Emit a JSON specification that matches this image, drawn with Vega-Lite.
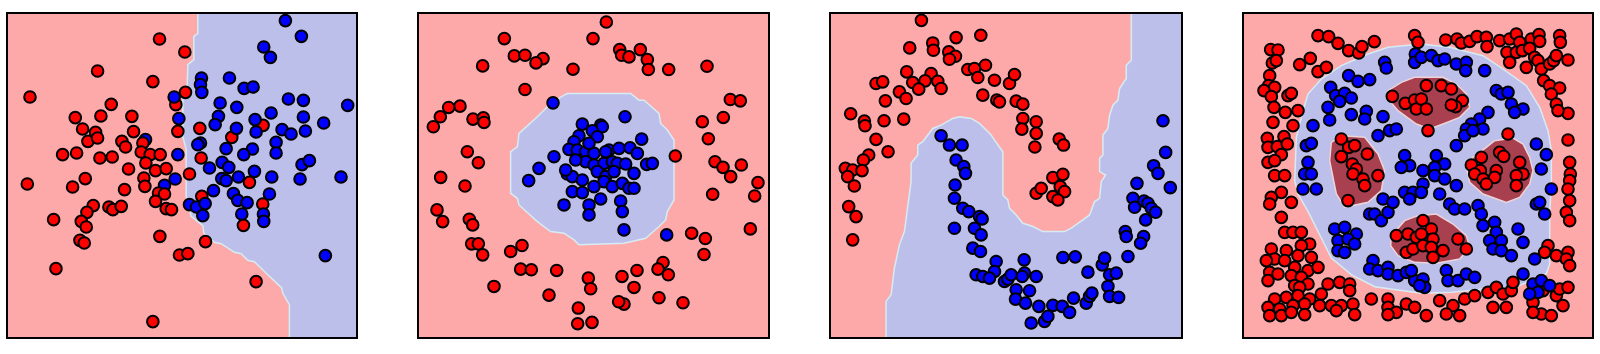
{
"$schema": "https://vega.github.io/schema/vega-lite/v6.json",
"padding": {"left": 6, "top": 10, "right": 0, "bottom": 0},
"spacing": 61,
"bounds": "flush",
"background": "white",
"config": {"view": {"stroke": null, "fill": "#fea9a9"}},
"datasets": {
"f1": [{"x": 1.7, "x2": 106.8, "y": 3.0, "y2": 100.5}],
"f2": [{"x": 2.2, "x2": 107.5, "y": 2.8, "y2": 100.5}],
"f3": [{"x": 2.2, "x2": 107.7, "y": 3.3, "y2": 101.0}],
"f4": [{"x": 3.5, "x2": 108.5, "y": 3.7, "y2": 101.2}],
"r1": [{"i":0,"x":59.0,"y":3.0},{"i":1,"x":59.0,"y":9.2},{"i":2,"x":57.8,"y":10.0},{"i":3,"x":57.8,"y":17.0},{"i":4,"x":56.0,"y":18.5},{"i":5,"x":55.8,"y":25.0},{"i":6,"x":54.5,"y":26.2},{"i":7,"x":54.5,"y":40.0},{"i":8,"x":55.5,"y":44.0},{"i":9,"x":55.5,"y":58.0},{"i":10,"x":57.0,"y":64.0},{"i":11,"x":60.5,"y":66.8},{"i":12,"x":60.8,"y":69.0},{"i":13,"x":62.5,"y":70.5},{"i":14,"x":64.0,"y":71.8},{"i":15,"x":66.0,"y":72.2},{"i":16,"x":70.0,"y":74.8},{"i":17,"x":72.0,"y":75.2},{"i":18,"x":74.0,"y":77.2},{"i":19,"x":76.0,"y":77.6},{"i":20,"x":80.0,"y":81.5},{"i":21,"x":84.2,"y":85.5},{"i":22,"x":84.5,"y":87.0},{"i":23,"x":86.5,"y":90.5},{"i":24,"x":86.5,"y":100.5},{"i":25,"x":106.8,"y":100.5},{"i":26,"x":106.8,"y":3.0}],
"r2": [{"i":0,"x":47.0,"y":27.0},{"i":1,"x":66.0,"y":27.0},{"i":2,"x":68.5,"y":29.0},{"i":3,"x":70.0,"y":29.0},{"i":4,"x":74.5,"y":33.0},{"i":5,"x":75.0,"y":36.0},{"i":6,"x":77.0,"y":38.0},{"i":7,"x":79.0,"y":41.0},{"i":8,"x":79.0,"y":59.0},{"i":9,"x":77.0,"y":62.5},{"i":10,"x":76.5,"y":65.0},{"i":11,"x":74.5,"y":67.0},{"i":12,"x":70.5,"y":70.5},{"i":13,"x":64.0,"y":72.0},{"i":14,"x":50.5,"y":72.5},{"i":15,"x":49.0,"y":71.0},{"i":16,"x":46.0,"y":69.0},{"i":17,"x":42.0,"y":68.5},{"i":18,"x":38.0,"y":65.5},{"i":19,"x":32.5,"y":60.5},{"i":20,"x":32.0,"y":58.5},{"i":21,"x":30.0,"y":57.0},{"i":22,"x":30.0,"y":44.5},{"i":23,"x":32.0,"y":43.0},{"i":24,"x":32.5,"y":39.0},{"i":25,"x":38.0,"y":34.0},{"i":26,"x":42.0,"y":30.0},{"i":27,"x":46.0,"y":27.5}],
"r3": [{"i":0,"x":92.5,"y":3.3},{"i":1,"x":92.5,"y":17.5},{"i":2,"x":91.0,"y":19.0},{"i":3,"x":91.0,"y":23.0},{"i":4,"x":89.0,"y":26.0},{"i":5,"x":88.5,"y":29.5},{"i":6,"x":87.0,"y":31.0},{"i":7,"x":86.0,"y":34.0},{"i":8,"x":85.5,"y":38.0},{"i":9,"x":84.0,"y":40.0},{"i":10,"x":84.0,"y":46.0},{"i":11,"x":83.0,"y":47.0},{"i":12,"x":83.0,"y":51.0},{"i":13,"x":84.8,"y":52.0},{"i":14,"x":83.5,"y":54.0},{"i":15,"x":83.0,"y":59.0},{"i":16,"x":81.5,"y":60.0},{"i":17,"x":80.0,"y":64.0},{"i":18,"x":78.0,"y":65.5},{"i":19,"x":74.5,"y":68.0},{"i":20,"x":72.5,"y":69.0},{"i":21,"x":66.0,"y":69.0},{"i":22,"x":63.0,"y":67.5},{"i":23,"x":60.0,"y":66.5},{"i":24,"x":58.0,"y":64.0},{"i":25,"x":56.0,"y":62.0},{"i":26,"x":55.5,"y":59.5},{"i":27,"x":54.0,"y":58.0},{"i":28,"x":54.0,"y":45.0},{"i":29,"x":51.5,"y":41.5},{"i":30,"x":50.5,"y":40.0},{"i":31,"x":47.0,"y":36.5},{"i":32,"x":44.5,"y":35.0},{"i":33,"x":41.0,"y":34.5},{"i":34,"x":39.0,"y":35.0},{"i":35,"x":35.5,"y":37.0},{"i":36,"x":33.0,"y":38.0},{"i":37,"x":30.0,"y":42.0},{"i":38,"x":28.5,"y":43.0},{"i":39,"x":28.5,"y":46.0},{"i":40,"x":26.5,"y":48.5},{"i":41,"x":26.5,"y":54.0},{"i":42,"x":24.5,"y":69.0},{"i":43,"x":23.0,"y":73.0},{"i":44,"x":21.5,"y":80.0},{"i":45,"x":20.5,"y":88.0},{"i":46,"x":19.0,"y":90.0},{"i":47,"x":19.0,"y":101.0},{"i":48,"x":107.7,"y":101.0},{"i":49,"x":107.7,"y":3.3}],
"r4": [{"i":0,"x":19.0,"y":54.0},{"i":1,"x":19.5,"y":41.0},{"i":2,"x":21.5,"y":33.0},{"i":3,"x":23.0,"y":28.0},{"i":4,"x":27.0,"y":23.5},{"i":5,"x":33.0,"y":19.5},{"i":6,"x":41.0,"y":16.0},{"i":7,"x":47.0,"y":14.0},{"i":8,"x":57.0,"y":13.0},{"i":9,"x":65.5,"y":14.0},{"i":10,"x":75.5,"y":16.5},{"i":11,"x":81.5,"y":20.5},{"i":12,"x":88.5,"y":25.5},{"i":13,"x":92.5,"y":32.0},{"i":14,"x":95.0,"y":39.0},{"i":15,"x":96.0,"y":45.0},{"i":16,"x":96.0,"y":54.0},{"i":17,"x":95.5,"y":65.0},{"i":18,"x":95.5,"y":79.0},{"i":19,"x":94.5,"y":82.0},{"i":20,"x":90.0,"y":84.0},{"i":21,"x":85.0,"y":86.0},{"i":22,"x":76.0,"y":86.5},{"i":23,"x":66.0,"y":87.5},{"i":24,"x":57.0,"y":87.8},{"i":25,"x":43.0,"y":85.8},{"i":26,"x":36.0,"y":82.2},{"i":27,"x":30.0,"y":77.2},{"i":28,"x":27.0,"y":71.2},{"i":29,"x":23.0,"y":63.2},{"i":30,"x":20.0,"y":58.0}],
"r4a": [{"i":0,"x":47.0,"y":27.0},{"i":1,"x":51.0,"y":24.5},{"i":2,"x":55.0,"y":23.0},{"i":3,"x":63.5,"y":23.0},{"i":4,"x":67.5,"y":25.0},{"i":5,"x":70.5,"y":28.0},{"i":6,"x":71.5,"y":32.0},{"i":7,"x":68.5,"y":35.0},{"i":8,"x":63.5,"y":37.0},{"i":9,"x":59.5,"y":38.5},{"i":10,"x":55.5,"y":37.0},{"i":11,"x":50.0,"y":33.0},{"i":12,"x":47.0,"y":29.5}],
"r4b": [{"i":0,"x":30.0,"y":42.5},{"i":1,"x":33.0,"y":40.5},{"i":2,"x":40.0,"y":41.0},{"i":3,"x":44.0,"y":46.0},{"i":4,"x":46.0,"y":51.0},{"i":5,"x":45.0,"y":57.0},{"i":6,"x":41.0,"y":60.5},{"i":7,"x":34.0,"y":62.0},{"i":8,"x":31.5,"y":58.0},{"i":9,"x":30.5,"y":53.0},{"i":10,"x":29.5,"y":48.0}],
"r4c": [{"i":0,"x":70.5,"y":50.0},{"i":1,"x":72.5,"y":47.0},{"i":2,"x":76.5,"y":44.0},{"i":3,"x":79.0,"y":42.0},{"i":4,"x":84.5,"y":41.2},{"i":5,"x":87.5,"y":43.0},{"i":6,"x":89.5,"y":47.0},{"i":7,"x":90.5,"y":51.0},{"i":8,"x":89.5,"y":55.0},{"i":9,"x":86.5,"y":59.0},{"i":10,"x":82.5,"y":60.5},{"i":11,"x":75.5,"y":58.0},{"i":12,"x":71.5,"y":54.5}],
"r4d": [{"i":0,"x":48.0,"y":70.5},{"i":1,"x":52.0,"y":66.0},{"i":2,"x":56.0,"y":64.5},{"i":3,"x":61.5,"y":64.0},{"i":4,"x":66.5,"y":67.0},{"i":5,"x":70.5,"y":70.5},{"i":6,"x":71.5,"y":74.0},{"i":7,"x":68.5,"y":77.5},{"i":8,"x":61.5,"y":78.8},{"i":9,"x":55.0,"y":78.5},{"i":10,"x":50.0,"y":76.5},{"i":11,"x":47.8,"y":73.5}],
"p1": [
{"x":47.5,"y":10.8,"c":"r"},{"x":55.1,"y":14.7,"c":"r"},{"x":28.9,"y":20.4,"c":"r"},{"x":45.5,"y":23.6,"c":"r"},{"x":8.6,"y":28.2,"c":"r"},{"x":55.3,"y":26.8,"c":"r"},{"x":33.0,"y":30.4,"c":"r"},{"x":52.4,"y":30.5,"c":"r"},{"x":22.2,"y":34.4,"c":"r"},{"x":29.9,"y":33.9,"c":"r"},{"x":39.2,"y":34.0,"c":"r"},{"x":24.4,"y":37.8,"c":"r"},{"x":28.3,"y":38.8,"c":"r"},{"x":39.7,"y":38.6,"c":"r"},{"x":26.0,"y":41.5,"c":"r"},{"x":28.9,"y":40.5,"c":"r"},{"x":36.2,"y":41.5,"c":"r"},{"x":37.3,"y":43.2,"c":"r"},{"x":18.4,"y":45.5,"c":"r"},{"x":22.6,"y":45.0,"c":"r"},{"x":29.6,"y":46.5,"c":"r"},{"x":33.3,"y":46.2,"c":"r"},{"x":53.0,"y":38.5,"c":"r"},{"x":59.6,"y":37.6,"c":"r"},{"x":69.2,"y":40.3,"c":"r"},{"x":60.0,"y":46.5,"c":"r"},{"x":7.8,"y":54.3,"c":"r"},{"x":21.4,"y":55.2,"c":"r"},{"x":25.2,"y":52.7,"c":"r"},{"x":37.0,"y":56.0,"c":"r"},{"x":56.5,"y":51.3,"c":"r"},{"x":74.5,"y":53.8,"c":"r"},{"x":60.2,"y":58.0,"c":"r"},{"x":78.6,"y":36.7,"c":"r"},{"x":78.5,"y":60.3,"c":"r"},{"x":27.6,"y":60.8,"c":"r"},{"x":32.3,"y":61.2,"c":"r"},{"x":33.5,"y":62.0,"c":"r"},{"x":36.0,"y":61.0,"c":"r"},{"x":25.7,"y":62.8,"c":"r"},{"x":24.0,"y":65.5,"c":"r"},{"x":25.5,"y":67.2,"c":"r"},{"x":15.7,"y":65.0,"c":"r"},{"x":23.6,"y":71.2,"c":"r"},{"x":24.9,"y":72.0,"c":"r"},{"x":47.6,"y":70.0,"c":"r"},{"x":61.3,"y":71.6,"c":"r"},{"x":53.5,"y":75.6,"c":"r"},{"x":56.0,"y":75.2,"c":"r"},{"x":72.7,"y":66.7,"c":"r"},{"x":16.4,"y":79.7,"c":"r"},{"x":76.5,"y":83.6,"c":"r"},{"x":45.5,"y":95.6,"c":"r"},
{"x":85.3,"y":5.3,"c":"b"},{"x":90.1,"y":10.0,"c":"b"},{"x":78.8,"y":13.2,"c":"b"},{"x":80.8,"y":16.3,"c":"b"},{"x":60.1,"y":22.5,"c":"b"},{"x":68.5,"y":22.5,"c":"b"},{"x":59.8,"y":24.5,"c":"b"},{"x":60.2,"y":26.8,"c":"b"},{"x":72.9,"y":25.6,"c":"b"},{"x":75.6,"y":25.2,"c":"b"},{"x":51.9,"y":28.2,"c":"b"},{"x":65.7,"y":30.0,"c":"b"},{"x":70.7,"y":31.3,"c":"b"},{"x":86.2,"y":28.8,"c":"b"},{"x":90.7,"y":29.2,"c":"b"},{"x":104.0,"y":30.7,"c":"b"},{"x":53.3,"y":34.7,"c":"b"},{"x":65.2,"y":34.0,"c":"b"},{"x":64.2,"y":36.5,"c":"b"},{"x":81.0,"y":33.0,"c":"b"},{"x":76.2,"y":35.0,"c":"b"},{"x":90.7,"y":34.2,"c":"b"},{"x":96.8,"y":36.0,"c":"b"},{"x":70.6,"y":37.6,"c":"b"},{"x":76.5,"y":38.7,"c":"b"},{"x":84.3,"y":38.0,"c":"b"},{"x":87.0,"y":39.3,"c":"b"},{"x":91.3,"y":38.4,"c":"b"},{"x":59.8,"y":42.0,"c":"b"},{"x":59.0,"y":42.5,"c":"b"},{"x":67.5,"y":43.7,"c":"b"},{"x":75.4,"y":43.8,"c":"b"},{"x":72.8,"y":45.5,"c":"b"},{"x":82.5,"y":41.8,"c":"b"},{"x":82.5,"y":45.0,"c":"b"},{"x":53.0,"y":45.5,"c":"b"},{"x":62.5,"y":49.5,"c":"b"},{"x":66.3,"y":47.8,"c":"b"},{"x":68.3,"y":49.3,"c":"b"},{"x":76.0,"y":50.5,"c":"b"},{"x":90.3,"y":48.5,"c":"b"},{"x":92.5,"y":47.3,"c":"b"},{"x":89.7,"y":52.8,"c":"b"},{"x":102.0,"y":52.2,"c":"b"},{"x":81.2,"y":52.2,"c":"b"},{"x":71.2,"y":52.2,"c":"b"},{"x":66.2,"y":52.7,"c":"b"},{"x":67.5,"y":53.3,"c":"b"},{"x":52.2,"y":52.8,"c":"b"},{"x":49.0,"y":54.7,"c":"b"},{"x":63.7,"y":56.3,"c":"b"},{"x":69.7,"y":57.2,"c":"b"},{"x":71.0,"y":59.2,"c":"b"},{"x":73.8,"y":59.9,"c":"b"},{"x":80.5,"y":57.3,"c":"b"},{"x":56.5,"y":60.5,"c":"b"},{"x":58.6,"y":61.2,"c":"b"},{"x":61.2,"y":60.2,"c":"b"},{"x":60.5,"y":63.8,"c":"b"},{"x":72.2,"y":63.3,"c":"b"},{"x":78.7,"y":63.3,"c":"b"},{"x":78.8,"y":65.5,"c":"b"},{"x":97.3,"y":75.8,"c":"b"},{"x":43.3,"y":41.0,"c":"b"},
{"x":42.5,"y":42.0,"c":"r"},{"x":42.0,"y":44.7,"c":"r"},{"x":44.7,"y":45.5,"c":"r"},{"x":47.7,"y":45.5,"c":"r"},{"x":43.4,"y":48.0,"c":"r"},{"x":38.2,"y":49.8,"c":"r"},{"x":46.3,"y":50.3,"c":"r"},{"x":49.5,"y":49.7,"c":"r"},{"x":42.8,"y":52.5,"c":"r"},{"x":43.1,"y":55.0,"c":"r"},{"x":47.2,"y":57.0,"c":"r"},{"x":49.0,"y":57.3,"c":"r"},{"x":46.3,"y":59.5,"c":"r"},{"x":49.5,"y":61.7,"c":"r"},{"x":51.1,"y":62.0,"c":"r"}
],
"p2": [
{"x":58.7,"y":5.5,"c":"r"},{"x":28.1,"y":10.5,"c":"r"},{"x":54.7,"y":10.5,"c":"r"},{"x":31.1,"y":15.7,"c":"r"},{"x":34.3,"y":15.5,"c":"r"},{"x":39.7,"y":16.5,"c":"r"},{"x":37.6,"y":17.8,"c":"r"},{"x":21.6,"y":18.7,"c":"r"},{"x":48.7,"y":19.7,"c":"r"},{"x":62.7,"y":13.8,"c":"r"},{"x":63.3,"y":15.5,"c":"r"},{"x":65.5,"y":16.0,"c":"r"},{"x":68.9,"y":13.8,"c":"r"},{"x":71.0,"y":16.8,"c":"r"},{"x":71.3,"y":19.8,"c":"r"},{"x":77.4,"y":19.8,"c":"r"},{"x":88.9,"y":18.8,"c":"r"},{"x":34.3,"y":25.8,"c":"r"},{"x":14.8,"y":30.8,"c":"r"},{"x":11.4,"y":31.2,"c":"r"},{"x":8.9,"y":34.0,"c":"r"},{"x":6.8,"y":37.0,"c":"r"},{"x":18.7,"y":34.7,"c":"r"},{"x":21.8,"y":34.3,"c":"r"},{"x":22.0,"y":35.7,"c":"r"},{"x":95.9,"y":28.8,"c":"r"},{"x":98.9,"y":29.2,"c":"r"},{"x":93.8,"y":34.2,"c":"r"},{"x":87.5,"y":35.5,"c":"r"},{"x":89.3,"y":40.6,"c":"r"},{"x":17.0,"y":44.5,"c":"r"},{"x":20.3,"y":47.8,"c":"r"},{"x":9.0,"y":52.2,"c":"r"},{"x":16.3,"y":54.8,"c":"r"},{"x":79.4,"y":45.8,"c":"r"},{"x":91.3,"y":47.5,"c":"r"},{"x":93.7,"y":49.2,"c":"r"},{"x":96.0,"y":52.0,"c":"r"},{"x":99.2,"y":48.5,"c":"r"},{"x":104.2,"y":53.8,"c":"r"},{"x":103.2,"y":57.8,"c":"r"},{"x":90.6,"y":57.3,"c":"r"},{"x":7.9,"y":62.0,"c":"r"},{"x":9.6,"y":65.5,"c":"r"},{"x":17.6,"y":64.8,"c":"r"},{"x":18.6,"y":66.5,"c":"r"},{"x":18.3,"y":72.2,"c":"r"},{"x":20.3,"y":72.2,"c":"r"},{"x":21.6,"y":75.5,"c":"r"},{"x":30.0,"y":74.5,"c":"r"},{"x":33.4,"y":72.7,"c":"r"},{"x":101.9,"y":67.7,"c":"r"},{"x":84.3,"y":69.0,"c":"r"},{"x":88.4,"y":70.6,"c":"r"},{"x":88.0,"y":75.4,"c":"r"},{"x":33.0,"y":79.8,"c":"r"},{"x":36.2,"y":80.0,"c":"r"},{"x":43.8,"y":80.2,"c":"r"},{"x":25.0,"y":85.0,"c":"r"},{"x":53.3,"y":82.5,"c":"r"},{"x":54.0,"y":85.7,"c":"r"},{"x":63.4,"y":82.0,"c":"r"},{"x":67.9,"y":80.2,"c":"r"},{"x":67.0,"y":85.3,"c":"r"},{"x":75.7,"y":77.8,"c":"r"},{"x":74.2,"y":79.8,"c":"r"},{"x":77.3,"y":81.5,"c":"r"},{"x":41.5,"y":87.6,"c":"r"},{"x":64.0,"y":90.3,"c":"r"},{"x":62.4,"y":89.6,"c":"r"},{"x":74.5,"y":88.4,"c":"r"},{"x":81.7,"y":89.9,"c":"r"},{"x":50.3,"y":91.5,"c":"r"},{"x":50.1,"y":96.2,"c":"r"},{"x":54.4,"y":95.8,"c":"r"},
{"x":42.7,"y":29.8,"c":"b"},{"x":76.8,"y":69.5,"c":"b"},{"x":64.3,"y":34.0,"c":"b"},{"x":51.5,"y":36.2,"c":"b"},{"x":57.0,"y":36.5,"c":"b"},{"x":57.5,"y":37.0,"c":"b"},{"x":50.5,"y":39.7,"c":"b"},{"x":54.5,"y":38.2,"c":"b"},{"x":56.0,"y":40.0,"c":"b"},{"x":49.0,"y":41.5,"c":"b"},{"x":47.5,"y":43.8,"c":"b"},{"x":50.0,"y":44.0,"c":"b"},{"x":52.5,"y":44.5,"c":"b"},{"x":55.0,"y":45.0,"c":"b"},{"x":59.5,"y":44.0,"c":"b"},{"x":62.5,"y":43.5,"c":"b"},{"x":65.8,"y":43.3,"c":"b"},{"x":68.0,"y":45.0,"c":"b"},{"x":69.3,"y":40.7,"c":"b"},{"x":43.0,"y":46.0,"c":"b"},{"x":38.5,"y":49.5,"c":"b"},{"x":35.4,"y":53.2,"c":"b"},{"x":52.5,"y":47.5,"c":"b"},{"x":55.0,"y":48.5,"c":"b"},{"x":58.0,"y":48.0,"c":"b"},{"x":60.5,"y":47.5,"c":"b"},{"x":62.0,"y":48.0,"c":"b"},{"x":64.5,"y":48.2,"c":"b"},{"x":70.8,"y":48.3,"c":"b"},{"x":72.5,"y":48.0,"c":"b"},{"x":47.0,"y":51.2,"c":"b"},{"x":48.5,"y":52.0,"c":"b"},{"x":51.5,"y":53.0,"c":"b"},{"x":56.0,"y":50.5,"c":"b"},{"x":58.5,"y":52.0,"c":"b"},{"x":58.0,"y":53.5,"c":"b"},{"x":60.5,"y":55.0,"c":"b"},{"x":63.5,"y":54.0,"c":"b"},{"x":67.0,"y":51.0,"c":"b"},{"x":65.5,"y":55.5,"c":"b"},{"x":67.0,"y":55.5,"c":"b"},{"x":48.5,"y":56.5,"c":"b"},{"x":51.5,"y":56.8,"c":"b"},{"x":57.0,"y":58.7,"c":"b"},{"x":63.0,"y":59.3,"c":"b"},{"x":46.0,"y":60.5,"c":"b"},{"x":53.5,"y":60.5,"c":"b"},{"x":53.5,"y":63.5,"c":"b"},{"x":63.5,"y":62.5,"c":"b"},{"x":64.0,"y":68.0,"c":"b"},{"x":49.5,"y":47.0,"c":"b"},{"x":53.5,"y":42.0,"c":"b"},{"x":61.0,"y":50.5,"c":"b"},{"x":58.5,"y":44.5,"c":"b"},{"x":46.5,"y":50.0,"c":"b"},{"x":55.0,"y":55.0,"c":"b"}
],
"p3": [
{"x":29.6,"y":5.5,"c":"r"},{"x":40.0,"y":10.7,"c":"r"},{"x":47.4,"y":10.0,"c":"r"},{"x":33.0,"y":12.3,"c":"r"},{"x":33.2,"y":14.5,"c":"r"},{"x":37.8,"y":15.0,"c":"r"},{"x":39.8,"y":16.3,"c":"r"},{"x":38.0,"y":17.2,"c":"r"},{"x":26.1,"y":13.8,"c":"r"},{"x":25.2,"y":21.0,"c":"r"},{"x":32.5,"y":21.5,"c":"r"},{"x":30.7,"y":23.7,"c":"r"},{"x":34.5,"y":23.8,"c":"r"},{"x":35.5,"y":26.0,"c":"r"},{"x":16.0,"y":24.5,"c":"r"},{"x":18.0,"y":24.0,"c":"r"},{"x":27.0,"y":24.2,"c":"r"},{"x":28.8,"y":26.2,"c":"r"},{"x":23.0,"y":27.0,"c":"r"},{"x":25.0,"y":29.0,"c":"r"},{"x":18.8,"y":29.7,"c":"r"},{"x":43.5,"y":20.3,"c":"r"},{"x":45.5,"y":20.0,"c":"r"},{"x":48.8,"y":19.0,"c":"r"},{"x":46.5,"y":22.7,"c":"r"},{"x":51.5,"y":23.5,"c":"r"},{"x":56.0,"y":24.5,"c":"r"},{"x":57.5,"y":21.8,"c":"r"},{"x":48.0,"y":28.0,"c":"r"},{"x":52.2,"y":29.5,"c":"r"},{"x":53.0,"y":30.0,"c":"r"},{"x":58.0,"y":29.8,"c":"r"},{"x":60.0,"y":30.7,"c":"r"},{"x":8.4,"y":33.6,"c":"r"},{"x":12.5,"y":35.8,"c":"r"},{"x":12.7,"y":37.2,"c":"r"},{"x":18.4,"y":35.7,"c":"r"},{"x":24.3,"y":35.2,"c":"r"},{"x":60.0,"y":35.0,"c":"r"},{"x":64.0,"y":36.0,"c":"r"},{"x":59.7,"y":38.2,"c":"r"},{"x":64.0,"y":39.5,"c":"r"},{"x":63.6,"y":43.6,"c":"r"},{"x":70.9,"y":41.2,"c":"r"},{"x":72.2,"y":43.0,"c":"r"},{"x":16.0,"y":41.3,"c":"r"},{"x":19.6,"y":45.0,"c":"r"},{"x":13.8,"y":46.0,"c":"r"},{"x":12.2,"y":47.5,"c":"r"},{"x":6.8,"y":50.0,"c":"r"},{"x":9.0,"y":50.5,"c":"r"},{"x":11.8,"y":50.7,"c":"r"},{"x":7.5,"y":52.5,"c":"r"},{"x":9.5,"y":55.3,"c":"r"},{"x":7.8,"y":61.5,"c":"r"},{"x":10.0,"y":64.5,"c":"r"},{"x":9.0,"y":71.5,"c":"r"},{"x":64.0,"y":57.5,"c":"r"},{"x":65.5,"y":56.0,"c":"r"},{"x":69.0,"y":52.8,"c":"r"},{"x":72.0,"y":51.8,"c":"r"},{"x":71.2,"y":55.5,"c":"r"},{"x":72.5,"y":57.0,"c":"r"},{"x":69.0,"y":58.5,"c":"r"},{"x":70.5,"y":59.5,"c":"r"},
{"x":102.0,"y":35.7,"c":"b"},{"x":102.8,"y":45.2,"c":"b"},{"x":99.2,"y":49.2,"c":"b"},{"x":100.5,"y":51.5,"c":"b"},{"x":104.2,"y":55.8,"c":"b"},{"x":94.2,"y":54.5,"c":"b"},{"x":93.0,"y":59.0,"c":"b"},{"x":93.5,"y":61.7,"c":"b"},{"x":96.3,"y":59.8,"c":"b"},{"x":97.5,"y":60.5,"c":"b"},{"x":98.5,"y":62.0,"c":"b"},{"x":99.8,"y":63.2,"c":"b"},{"x":96.8,"y":65.5,"c":"b"},{"x":90.7,"y":69.0,"c":"b"},{"x":91.0,"y":70.5,"c":"b"},{"x":96.2,"y":70.5,"c":"b"},{"x":95.3,"y":72.5,"c":"b"},{"x":91.5,"y":76.5,"c":"b"},{"x":35.5,"y":40.2,"c":"b"},{"x":38.0,"y":43.0,"c":"b"},{"x":41.8,"y":43.0,"c":"b"},{"x":40.0,"y":47.5,"c":"b"},{"x":42.3,"y":49.5,"c":"b"},{"x":42.8,"y":51.5,"c":"b"},{"x":39.7,"y":55.0,"c":"b"},{"x":39.5,"y":59.0,"c":"b"},{"x":42.0,"y":62.0,"c":"b"},{"x":43.8,"y":63.0,"c":"b"},{"x":47.0,"y":64.5,"c":"b"},{"x":47.8,"y":65.2,"c":"b"},{"x":45.5,"y":68.0,"c":"b"},{"x":47.5,"y":70.0,"c":"b"},{"x":39.5,"y":68.0,"c":"b"},{"x":45.0,"y":74.0,"c":"b"},{"x":47.3,"y":75.0,"c":"b"},{"x":52.0,"y":78.0,"c":"b"},{"x":60.4,"y":77.5,"c":"b"},{"x":51.5,"y":81.0,"c":"b"},{"x":46.0,"y":82.0,"c":"b"},{"x":48.0,"y":82.5,"c":"b"},{"x":50.0,"y":83.0,"c":"b"},{"x":54.5,"y":84.0,"c":"b"},{"x":55.5,"y":83.3,"c":"b"},{"x":56.5,"y":82.0,"c":"b"},{"x":60.5,"y":81.5,"c":"b"},{"x":59.8,"y":82.5,"c":"b"},{"x":64.0,"y":82.5,"c":"b"},{"x":58.0,"y":86.5,"c":"b"},{"x":62.0,"y":86.8,"c":"b"},{"x":57.8,"y":89.3,"c":"b"},{"x":60.8,"y":90.5,"c":"b"},{"x":64.8,"y":91.5,"c":"b"},{"x":69.0,"y":91.2,"c":"b"},{"x":71.8,"y":91.5,"c":"b"},{"x":74.0,"y":93.3,"c":"b"},{"x":75.2,"y":89.0,"c":"b"},{"x":79.0,"y":90.5,"c":"b"},{"x":80.0,"y":88.5,"c":"b"},{"x":80.7,"y":87.5,"c":"b"},{"x":62.5,"y":96.5,"c":"b"},{"x":66.5,"y":96.0,"c":"b"},{"x":67.5,"y":94.5,"c":"b"},{"x":72.0,"y":76.8,"c":"b"},{"x":75.7,"y":76.6,"c":"b"},{"x":79.5,"y":81.2,"c":"b"},{"x":83.8,"y":79.0,"c":"b"},{"x":84.5,"y":77.0,"c":"b"},{"x":86.0,"y":82.0,"c":"b"},{"x":88.0,"y":81.5,"c":"b"},{"x":85.5,"y":85.5,"c":"b"},{"x":86.0,"y":88.5,"c":"b"},{"x":88.7,"y":88.8,"c":"b"}
],
"p4": [
{"x":26.0,"y":10.5,"c":"r"},{"x":29.2,"y":10.8,"c":"r"},{"x":32.0,"y":12.8,"c":"r"},{"x":35.2,"y":15.0,"c":"r"},{"x":38.2,"y":15.7,"c":"r"},{"x":39.2,"y":13.8,"c":"r"},{"x":42.9,"y":12.3,"c":"r"},{"x":11.8,"y":14.7,"c":"r"},{"x":14.0,"y":14.8,"c":"r"},{"x":12.3,"y":18.7,"c":"r"},{"x":13.5,"y":18.0,"c":"r"},{"x":20.5,"y":19.2,"c":"r"},{"x":23.7,"y":17.3,"c":"r"},{"x":26.0,"y":21.3,"c":"r"},{"x":28.5,"y":20.0,"c":"r"},{"x":11.5,"y":22.5,"c":"r"},{"x":11.2,"y":25.5,"c":"r"},{"x":13.0,"y":26.0,"c":"r"},{"x":9.8,"y":27.0,"c":"r"},{"x":12.0,"y":28.8,"c":"r"},{"x":17.0,"y":28.5,"c":"r"},{"x":18.0,"y":27.8,"c":"r"},{"x":12.8,"y":32.0,"c":"r"},{"x":16.2,"y":33.5,"c":"r"},{"x":20.0,"y":33.0,"c":"r"},{"x":12.5,"y":36.5,"c":"r"},{"x":18.5,"y":37.5,"c":"r"},{"x":10.8,"y":41.3,"c":"r"},{"x":15.8,"y":40.8,"c":"r"},{"x":11.0,"y":44.0,"c":"r"},{"x":13.8,"y":43.8,"c":"r"},{"x":16.8,"y":43.0,"c":"r"},{"x":15.0,"y":46.2,"c":"r"},{"x":11.0,"y":48.5,"c":"r"},{"x":13.0,"y":48.0,"c":"r"},{"x":13.0,"y":52.5,"c":"r"},{"x":16.0,"y":52.5,"c":"r"},{"x":48.3,"y":28.7,"c":"r"},{"x":52.2,"y":30.8,"c":"r"},{"x":55.0,"y":29.8,"c":"r"},{"x":55.5,"y":32.5,"c":"r"},{"x":55.0,"y":10.5,"c":"r"},{"x":56.0,"y":12.5,"c":"r"},{"x":33.0,"y":41.5,"c":"r"},{"x":35.2,"y":44.0,"c":"r"},{"x":37.0,"y":43.5,"c":"r"},{"x":40.8,"y":46.0,"c":"r"},{"x":33.0,"y":46.8,"c":"r"},{"x":36.3,"y":49.0,"c":"r"},{"x":37.5,"y":50.5,"c":"r"},{"x":44.0,"y":52.5,"c":"r"},{"x":36.5,"y":52.0,"c":"r"},{"x":39.5,"y":53.5,"c":"r"},
{"x":64.3,"y":11.8,"c":"r"},{"x":67.7,"y":11.5,"c":"r"},{"x":69.0,"y":12.7,"c":"r"},{"x":71.5,"y":12.2,"c":"r"},{"x":73.7,"y":10.8,"c":"r"},{"x":76.5,"y":11.0,"c":"r"},{"x":76.7,"y":13.8,"c":"r"},{"x":80.5,"y":12.0,"c":"r"},{"x":83.5,"y":11.5,"c":"r"},{"x":85.5,"y":10.0,"c":"r"},{"x":86.5,"y":12.5,"c":"r"},{"x":90.0,"y":11.5,"c":"r"},{"x":92.3,"y":10.2,"c":"r"},{"x":92.5,"y":12.2,"c":"r"},{"x":98.5,"y":10.5,"c":"r"},{"x":98.7,"y":12.5,"c":"r"},{"x":82.7,"y":15.5,"c":"r"},{"x":85.5,"y":15.5,"c":"r"},{"x":87.3,"y":15.0,"c":"r"},{"x":89.5,"y":14.3,"c":"r"},{"x":91.0,"y":17.0,"c":"r"},{"x":83.5,"y":18.5,"c":"r"},{"x":88.5,"y":20.0,"c":"r"},{"x":92.0,"y":18.0,"c":"r"},{"x":93.0,"y":20.5,"c":"r"},{"x":95.5,"y":19.0,"c":"r"},{"x":96.7,"y":18.0,"c":"r"},{"x":97.5,"y":16.5,"c":"r"},{"x":101.0,"y":17.8,"c":"r"},{"x":93.7,"y":24.0,"c":"r"},{"x":95.5,"y":25.5,"c":"r"},{"x":98.5,"y":26.2,"c":"r"},{"x":96.0,"y":28.0,"c":"r"},{"x":97.5,"y":31.0,"c":"r"},{"x":101.0,"y":33.8,"c":"r"},{"x":98.0,"y":33.0,"c":"r"},{"x":58.5,"y":25.5,"c":"r"},{"x":63.0,"y":25.5,"c":"r"},{"x":66.0,"y":26.5,"c":"r"},{"x":69.3,"y":30.0,"c":"r"},{"x":67.3,"y":31.8,"c":"r"},{"x":66.0,"y":31.3,"c":"r"},{"x":57.0,"y":29.5,"c":"r"},{"x":58.5,"y":32.5,"c":"r"},{"x":59.0,"y":39.0,"c":"r"},{"x":101.0,"y":41.8,"c":"r"},{"x":83.0,"y":40.0,"c":"r"},{"x":80.5,"y":45.5,"c":"r"},{"x":81.7,"y":46.7,"c":"r"},{"x":75.0,"y":47.0,"c":"r"},{"x":72.0,"y":49.3,"c":"r"},{"x":74.7,"y":51.0,"c":"r"},{"x":79.5,"y":51.0,"c":"r"},{"x":86.5,"y":48.5,"c":"r"},{"x":87.5,"y":52.0,"c":"r"},{"x":85.5,"y":52.5,"c":"r"},{"x":101.5,"y":48.5,"c":"r"},{"x":101.7,"y":52.0,"c":"r"},{"x":79.0,"y":53.0,"c":"r"},
{"x":15.0,"y":57.5,"c":"r"},{"x":12.0,"y":59.0,"c":"r"},{"x":11.5,"y":61.0,"c":"r"},{"x":18.0,"y":60.5,"c":"r"},{"x":15.0,"y":65.0,"c":"r"},{"x":16.0,"y":69.5,"c":"r"},{"x":18.5,"y":69.5,"c":"r"},{"x":21.0,"y":69.5,"c":"r"},{"x":23.5,"y":73.0,"c":"r"},{"x":21.0,"y":73.5,"c":"r"},{"x":12.0,"y":74.5,"c":"r"},{"x":16.5,"y":75.0,"c":"r"},{"x":13.0,"y":77.5,"c":"r"},{"x":20.0,"y":76.5,"c":"r"},{"x":24.0,"y":77.0,"c":"r"},{"x":10.5,"y":78.0,"c":"r"},{"x":16.0,"y":78.0,"c":"r"},{"x":19.0,"y":80.0,"c":"r"},{"x":23.0,"y":81.0,"c":"r"},{"x":26.0,"y":80.0,"c":"r"},{"x":11.5,"y":81.5,"c":"r"},{"x":14.0,"y":82.0,"c":"r"},{"x":18.0,"y":82.5,"c":"r"},{"x":21.0,"y":83.0,"c":"r"},{"x":11.0,"y":84.0,"c":"r"},{"x":19.0,"y":85.5,"c":"r"},{"x":23.0,"y":85.0,"c":"r"},{"x":20.5,"y":86.0,"c":"r"},{"x":29.0,"y":85.0,"c":"r"},{"x":32.5,"y":84.5,"c":"r"},{"x":35.5,"y":85.0,"c":"r"},{"x":35.5,"y":87.0,"c":"r"},{"x":27.0,"y":88.0,"c":"r"},{"x":13.0,"y":89.5,"c":"r"},{"x":16.5,"y":89.0,"c":"r"},{"x":20.0,"y":88.5,"c":"r"},{"x":23.5,"y":89.5,"c":"r"},{"x":11.0,"y":92.0,"c":"r"},{"x":14.5,"y":92.5,"c":"r"},{"x":18.5,"y":91.5,"c":"r"},{"x":22.0,"y":91.0,"c":"r"},{"x":26.5,"y":91.5,"c":"r"},{"x":30.0,"y":91.5,"c":"r"},{"x":33.0,"y":91.5,"c":"r"},{"x":36.5,"y":91.0,"c":"r"},{"x":11.5,"y":94.5,"c":"r"},{"x":15.0,"y":94.5,"c":"r"},{"x":18.0,"y":93.5,"c":"r"},{"x":22.0,"y":94.2,"c":"r"},{"x":31.5,"y":93.0,"c":"r"},{"x":37.0,"y":94.2,"c":"r"},{"x":42.0,"y":89.5,"c":"r"},{"x":47.0,"y":89.5,"c":"r"},{"x":47.0,"y":92.0,"c":"r"},{"x":49.5,"y":93.5,"c":"r"},{"x":47.0,"y":94.2,"c":"r"},{"x":52.5,"y":91.0,"c":"r"},{"x":55.0,"y":92.0,"c":"r"},{"x":35.0,"y":60.0,"c":"r"},{"x":40.0,"y":55.5,"c":"r"},{"x":49.5,"y":70.5,"c":"r"},{"x":53.0,"y":70.0,"c":"r"},{"x":52.5,"y":75.5,"c":"r"},{"x":55.5,"y":71.0,"c":"r"},{"x":54.5,"y":74.5,"c":"r"},
{"x":73.0,"y":52.0,"c":"r"},{"x":75.5,"y":53.5,"c":"r"},{"x":76.5,"y":55.0,"c":"r"},{"x":85.5,"y":55.5,"c":"r"},{"x":57.5,"y":66.0,"c":"r"},{"x":60.0,"y":68.5,"c":"r"},{"x":57.0,"y":70.0,"c":"r"},{"x":60.5,"y":71.5,"c":"r"},{"x":57.5,"y":73.5,"c":"r"},{"x":60.0,"y":74.0,"c":"r"},{"x":63.5,"y":75.0,"c":"r"},{"x":60.5,"y":77.0,"c":"r"},{"x":68.0,"y":71.5,"c":"r"},{"x":70.5,"y":74.5,"c":"r"},{"x":101.5,"y":54.0,"c":"r"},{"x":101.0,"y":56.5,"c":"r"},{"x":101.5,"y":60.0,"c":"r"},{"x":100.5,"y":63.5,"c":"r"},{"x":101.5,"y":66.0,"c":"r"},{"x":95.0,"y":73.5,"c":"r"},{"x":94.0,"y":75.5,"c":"r"},{"x":97.5,"y":76.5,"c":"r"},{"x":101.0,"y":75.5,"c":"r"},{"x":100.5,"y":77.5,"c":"r"},{"x":101.5,"y":79.5,"c":"r"},{"x":62.5,"y":90.0,"c":"r"},{"x":66.5,"y":91.5,"c":"r"},{"x":70.0,"y":89.5,"c":"r"},{"x":73.0,"y":88.5,"c":"r"},{"x":64.5,"y":94.0,"c":"r"},{"x":68.5,"y":94.5,"c":"r"},{"x":58.5,"y":94.5,"c":"r"},{"x":77.0,"y":87.5,"c":"r"},{"x":79.5,"y":86.0,"c":"r"},{"x":81.5,"y":88.0,"c":"r"},{"x":84.0,"y":87.0,"c":"r"},{"x":84.5,"y":84.5,"c":"r"},{"x":78.5,"y":92.0,"c":"r"},{"x":82.5,"y":92.0,"c":"r"},{"x":90.5,"y":90.5,"c":"r"},{"x":93.0,"y":94.0,"c":"r"},{"x":96.0,"y":94.5,"c":"r"},{"x":99.5,"y":91.5,"c":"r"},{"x":97.5,"y":88.5,"c":"r"},{"x":98.5,"y":86.5,"c":"r"},{"x":101.0,"y":86.0,"c":"r"},{"x":93.5,"y":87.0,"c":"r"},{"x":90.5,"y":93.5,"c":"r"},
{"x":46.0,"y":18.5,"c":"b"},{"x":46.5,"y":20.2,"c":"b"},{"x":55.2,"y":16.0,"c":"b"},{"x":55.0,"y":18.5,"c":"b"},{"x":35.2,"y":22.5,"c":"b"},{"x":38.0,"y":24.2,"c":"b"},{"x":41.5,"y":23.7,"c":"b"},{"x":29.8,"y":26.0,"c":"b"},{"x":31.3,"y":28.5,"c":"b"},{"x":34.0,"y":27.8,"c":"b"},{"x":36.0,"y":29.2,"c":"b"},{"x":29.0,"y":32.0,"c":"b"},{"x":32.5,"y":30.2,"c":"b"},{"x":29.5,"y":35.8,"c":"b"},{"x":36.0,"y":34.2,"c":"b"},{"x":40.5,"y":33.2,"c":"b"},{"x":40.0,"y":35.5,"c":"b"},{"x":45.5,"y":34.8,"c":"b"},{"x":44.0,"y":40.5,"c":"b"},{"x":47.5,"y":39.0,"c":"b"},{"x":49.5,"y":38.5,"c":"b"},{"x":24.5,"y":37.5,"c":"b"},{"x":22.5,"y":43.5,"c":"b"},{"x":24.0,"y":42.8,"c":"b"},{"x":23.0,"y":48.5,"c":"b"},{"x":22.0,"y":52.0,"c":"b"},{"x":24.0,"y":52.0,"c":"b"},{"x":52.0,"y":46.5,"c":"b"},{"x":53.5,"y":49.5,"c":"b"},{"x":51.0,"y":50.0,"c":"b"},
{"x":57.0,"y":17.0,"c":"b"},{"x":60.0,"y":16.5,"c":"b"},{"x":62.0,"y":18.0,"c":"b"},{"x":64.0,"y":17.5,"c":"b"},{"x":67.5,"y":19.0,"c":"b"},{"x":70.5,"y":18.5,"c":"b"},{"x":70.3,"y":21.0,"c":"b"},{"x":76.0,"y":21.0,"c":"b"},{"x":79.5,"y":27.0,"c":"b"},{"x":81.0,"y":28.0,"c":"b"},{"x":83.0,"y":27.5,"c":"b"},{"x":84.0,"y":31.0,"c":"b"},{"x":87.5,"y":32.5,"c":"b"},{"x":85.0,"y":33.5,"c":"b"},{"x":77.0,"y":33.5,"c":"b"},{"x":74.5,"y":35.5,"c":"b"},{"x":72.0,"y":37.0,"c":"b"},{"x":70.5,"y":38.5,"c":"b"},{"x":75.5,"y":38.5,"c":"b"},{"x":70.0,"y":40.5,"c":"b"},{"x":72.5,"y":39.0,"c":"b"},{"x":67.5,"y":43.5,"c":"b"},{"x":61.5,"y":46.5,"c":"b"},{"x":64.0,"y":49.0,"c":"b"},{"x":61.0,"y":50.0,"c":"b"},{"x":91.5,"y":43.0,"c":"b"},{"x":94.5,"y":46.2,"c":"b"},{"x":93.0,"y":50.5,"c":"b"},{"x":57.5,"y":51.0,"c":"b"},{"x":61.0,"y":52.5,"c":"b"},
{"x":25.5,"y":56.5,"c":"b"},{"x":21.5,"y":56.5,"c":"b"},{"x":31.0,"y":68.5,"c":"b"},{"x":34.0,"y":68.0,"c":"b"},{"x":37.5,"y":70.0,"c":"b"},{"x":32.0,"y":72.0,"c":"b"},{"x":35.0,"y":71.5,"c":"b"},{"x":37.0,"y":73.0,"c":"b"},{"x":32.0,"y":75.0,"c":"b"},{"x":34.0,"y":75.5,"c":"b"},{"x":41.5,"y":64.0,"c":"b"},{"x":43.0,"y":64.0,"c":"b"},{"x":45.0,"y":66.0,"c":"b"},{"x":47.0,"y":63.5,"c":"b"},{"x":45.5,"y":59.5,"c":"b"},{"x":48.5,"y":60.5,"c":"b"},{"x":52.0,"y":57.5,"c":"b"},{"x":54.5,"y":57.5,"c":"b"},{"x":53.5,"y":59.5,"c":"b"},{"x":42.5,"y":78.0,"c":"b"},{"x":41.5,"y":80.5,"c":"b"},{"x":44.0,"y":81.0,"c":"b"},{"x":47.0,"y":80.0,"c":"b"},{"x":47.0,"y":82.0,"c":"b"},{"x":50.0,"y":82.5,"c":"b"},{"x":52.5,"y":81.5,"c":"b"},{"x":55.0,"y":84.0,"c":"b"},{"x":54.0,"y":81.0,"c":"b"},
{"x":57.5,"y":55.0,"c":"b"},{"x":57.0,"y":57.5,"c":"b"},{"x":64.0,"y":53.5,"c":"b"},{"x":62.5,"y":58.0,"c":"b"},{"x":67.5,"y":55.5,"c":"b"},{"x":65.5,"y":61.0,"c":"b"},{"x":67.0,"y":62.5,"c":"b"},{"x":70.0,"y":62.5,"c":"b"},{"x":74.0,"y":61.5,"c":"b"},{"x":75.0,"y":64.0,"c":"b"},{"x":75.5,"y":67.5,"c":"b"},{"x":79.0,"y":66.5,"c":"b"},{"x":79.5,"y":69.5,"c":"b"},{"x":77.5,"y":72.0,"c":"b"},{"x":81.0,"y":72.0,"c":"b"},{"x":78.5,"y":74.5,"c":"b"},{"x":81.0,"y":75.0,"c":"b"},{"x":84.0,"y":76.5,"c":"b"},{"x":86.0,"y":68.5,"c":"b"},{"x":87.5,"y":72.5,"c":"b"},{"x":91.0,"y":77.5,"c":"b"},{"x":91.5,"y":61.0,"c":"b"},{"x":94.0,"y":64.0,"c":"b"},{"x":92.5,"y":60.5,"c":"b"},{"x":96.0,"y":56.5,"c":"b"},{"x":87.5,"y":82.0,"c":"b"},{"x":90.5,"y":85.0,"c":"b"},{"x":93.0,"y":84.0,"c":"b"},{"x":92.0,"y":87.5,"c":"b"},{"x":95.5,"y":85.5,"c":"b"},{"x":89.5,"y":88.0,"c":"b"},{"x":64.5,"y":81.0,"c":"b"},{"x":65.0,"y":84.0,"c":"b"},{"x":68.0,"y":84.0,"c":"b"},{"x":70.5,"y":82.0,"c":"b"},{"x":73.0,"y":83.0,"c":"b"},{"x":57.5,"y":83.5,"c":"b"},{"x":58.0,"y":86.0,"c":"b"},{"x":56.5,"y":85.5,"c":"b"}
]
},
"hconcat": [
{"width": 350, "height": 325,
 "encoding": {"x": {"field": "x", "type": "quantitative", "axis": null, "scale": {"domain": [1.7, 106.8], "nice": false, "zero": false}}, "y": {"field": "y", "type": "quantitative", "axis": null, "scale": {"domain": [3.0, 100.5], "nice": false, "zero": false, "reverse": true}}},
 "layer": [
  {"data": {"name": "r1"}, "mark": {"type": "line", "interpolate": "linear-closed", "fill": "#bdbfeb", "stroke": "#d6ecf4", "strokeWidth": 1.5}, "encoding": {"order": {"field": "i", "type": "quantitative"}}},
  {"data": {"name": "p1"}, "mark": {"type": "point", "filled": true, "opacity": 1, "size": 135, "stroke": "#000000", "strokeWidth": 2}, "encoding": {"color": {"field": "c", "type": "nominal", "scale": {"domain": ["r", "b"], "range": ["#ff0000", "#0000ff"]}, "legend": null}}},
  {"data": {"name": "f1"}, "mark": {"type": "rect", "fillOpacity": 0, "stroke": "#000000", "strokeWidth": 2}, "encoding": {"x2": {"field": "x2"}, "y2": {"field": "y2"}}}
 ]},
{"width": 351, "height": 325,
 "encoding": {"x": {"field": "x", "type": "quantitative", "axis": null, "scale": {"domain": [2.2, 107.5], "nice": false, "zero": false}}, "y": {"field": "y", "type": "quantitative", "axis": null, "scale": {"domain": [2.8, 100.5], "nice": false, "zero": false, "reverse": true}}},
 "layer": [
  {"data": {"name": "r2"}, "mark": {"type": "line", "interpolate": "linear-closed", "fill": "#bdbfeb", "stroke": "#d6ecf4", "strokeWidth": 1.5}, "encoding": {"order": {"field": "i", "type": "quantitative"}}},
  {"data": {"name": "p2"}, "mark": {"type": "point", "filled": true, "opacity": 1, "size": 135, "stroke": "#000000", "strokeWidth": 2}, "encoding": {"color": {"field": "c", "type": "nominal", "scale": {"domain": ["r", "b"], "range": ["#ff0000", "#0000ff"]}, "legend": null}}},
  {"data": {"name": "f2"}, "mark": {"type": "rect", "fillOpacity": 0, "stroke": "#000000", "strokeWidth": 2}, "encoding": {"x2": {"field": "x2"}, "y2": {"field": "y2"}}}
 ]},
{"width": 352, "height": 325,
 "encoding": {"x": {"field": "x", "type": "quantitative", "axis": null, "scale": {"domain": [2.2, 107.7], "nice": false, "zero": false}}, "y": {"field": "y", "type": "quantitative", "axis": null, "scale": {"domain": [3.3, 101.0], "nice": false, "zero": false, "reverse": true}}},
 "layer": [
  {"data": {"name": "r3"}, "mark": {"type": "line", "interpolate": "linear-closed", "fill": "#bdbfeb", "stroke": "#d6ecf4", "strokeWidth": 1.5}, "encoding": {"order": {"field": "i", "type": "quantitative"}}},
  {"data": {"name": "p3"}, "mark": {"type": "point", "filled": true, "opacity": 1, "size": 135, "stroke": "#000000", "strokeWidth": 2}, "encoding": {"color": {"field": "c", "type": "nominal", "scale": {"domain": ["r", "b"], "range": ["#ff0000", "#0000ff"]}, "legend": null}}},
  {"data": {"name": "f3"}, "mark": {"type": "rect", "fillOpacity": 0, "stroke": "#000000", "strokeWidth": 2}, "encoding": {"x2": {"field": "x2"}, "y2": {"field": "y2"}}}
 ]},
{"width": 350, "height": 325,
 "encoding": {"x": {"field": "x", "type": "quantitative", "axis": null, "scale": {"domain": [3.5, 108.5], "nice": false, "zero": false}}, "y": {"field": "y", "type": "quantitative", "axis": null, "scale": {"domain": [3.7, 101.2], "nice": false, "zero": false, "reverse": true}}},
 "layer": [
  {"data": {"name": "r4"}, "mark": {"type": "line", "interpolate": "linear-closed", "fill": "#bdbfeb", "stroke": "#d6ecf4", "strokeWidth": 1.5}, "encoding": {"order": {"field": "i", "type": "quantitative"}}},
  {"data": {"name": "r4a"}, "mark": {"type": "line", "interpolate": "linear-closed", "fill": "#a8404f", "stroke": "#ecd4d8", "strokeWidth": 1.5}, "encoding": {"order": {"field": "i", "type": "quantitative"}}},
  {"data": {"name": "r4b"}, "mark": {"type": "line", "interpolate": "linear-closed", "fill": "#a8404f", "stroke": "#ecd4d8", "strokeWidth": 1.5}, "encoding": {"order": {"field": "i", "type": "quantitative"}}},
  {"data": {"name": "r4c"}, "mark": {"type": "line", "interpolate": "linear-closed", "fill": "#a8404f", "stroke": "#ecd4d8", "strokeWidth": 1.5}, "encoding": {"order": {"field": "i", "type": "quantitative"}}},
  {"data": {"name": "r4d"}, "mark": {"type": "line", "interpolate": "linear-closed", "fill": "#a8404f", "stroke": "#ecd4d8", "strokeWidth": 1.5}, "encoding": {"order": {"field": "i", "type": "quantitative"}}},
  {"data": {"name": "p4"}, "mark": {"type": "point", "filled": true, "opacity": 1, "size": 135, "stroke": "#000000", "strokeWidth": 2}, "encoding": {"color": {"field": "c", "type": "nominal", "scale": {"domain": ["r", "b"], "range": ["#ff0000", "#0000ff"]}, "legend": null}}},
  {"data": {"name": "f4"}, "mark": {"type": "rect", "fillOpacity": 0, "stroke": "#000000", "strokeWidth": 2}, "encoding": {"x2": {"field": "x2"}, "y2": {"field": "y2"}}}
 ]}
]
}
